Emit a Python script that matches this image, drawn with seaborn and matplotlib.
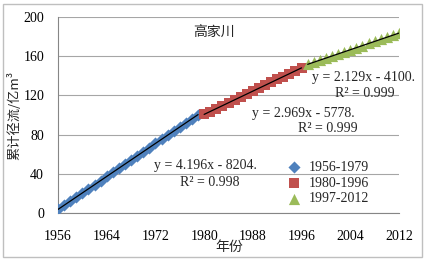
import matplotlib
matplotlib.use("Agg")
import matplotlib.pyplot as plt
import seaborn as sns
import numpy as np
import pandas as pd
from matplotlib.patches import Rectangle

years1 = list(range(1956, 1980))
vals1 = [3.6, 7.9, 12.0, 16.3, 20.4, 24.8, 28.9, 33.0, 37.3, 41.5, 45.8, 50.0,
         54.1, 58.4, 62.6, 66.8, 71.0, 75.1, 79.4, 83.6, 87.8, 91.9, 96.2, 100.3]
years2 = list(range(1980, 1997))
vals2 = [100.8, 103.5, 106.6, 109.5, 112.5, 115.4, 118.4, 121.4, 124.3, 127.3,
         130.3, 133.2, 136.3, 139.1, 142.2, 145.1, 148.2]
years3 = list(range(1997, 2013))
vals3 = [151.8, 153.8, 155.9, 158.1, 160.2, 162.3, 164.5, 166.5, 168.7, 170.8,
         173.0, 175.1, 177.2, 179.3, 181.5, 183.6]
labels = ["1956-1979", "1980-1996", "1997-2012"]
eqs = ["y = 4.196x - 8204.", "y = 2.969x - 5778.", "y = 2.129x - 4100."]
r2s = ["R² = 0.998", "R² = 0.999", "R² = 0.999"]
title = "高家川"
xticks = [1956, 1964, 1972, 1980, 1988, 1996, 2004, 2012]
yticks = [0, 40, 80, 120, 160, 200]

sns.set_theme(style="white")
plt.rcParams['font.family'] = ['Liberation Serif', 'Noto Sans CJK SC']

df = pd.concat([
    pd.DataFrame({"year": years1, "value": vals1, "period": labels[0]}),
    pd.DataFrame({"year": years2, "value": vals2, "period": labels[1]}),
    pd.DataFrame({"year": years3, "value": vals3, "period": labels[2]}),
])

fig = plt.figure(figsize=(4.25, 2.61), dpi=100)
ax = fig.add_axes([58/425, 1-213/261, (399-58)/425, (213-17)/261])

colors = ["#4F81BD", "#C0504D", "#9BBB59"]
markers = ["D", "s", "^"]
sizes = [38, 55, 65]
for i, lab in enumerate(labels):
    sub = df[df.period == lab]
    sns.scatterplot(data=sub, x="year", y="value", ax=ax, color=colors[i],
                    marker=markers[i], s=sizes[i], linewidth=0, label=lab, zorder=3)
    sns.regplot(data=sub, x="year", y="value", ax=ax, scatter=False, ci=None,
                line_kws=dict(color="black", lw=0.9, zorder=4), truncate=True)

ax.set_xlim(1956, 2012)
ax.set_ylim(0, 200)
ax.set_xticks(xticks)
ax.set_yticks(yticks)
ax.grid(axis="y", color="#A6A6A6", lw=0.8)
ax.set_axisbelow(True)
for s in ["top", "right"]:
    ax.spines[s].set_visible(False)
for s in ["left", "bottom"]:
    ax.spines[s].set_color("#868686")
    ax.spines[s].set_linewidth(0.8)
ax.tick_params(axis="x", direction="in", length=3, color="#868686", width=0.8,
               labelsize=10, pad=12)
ax.tick_params(axis="y", length=0, labelsize=10, pad=10)
for t in ax.get_xticklabels() + ax.get_yticklabels():
    t.set_color("black")

ax.set_xlabel("年份", fontsize=10, family=["Noto Sans CJK SC"])
ax.xaxis.set_label_coords((229-58)/341, -0.14)
ax.set_ylabel("累计径流/亿m³", fontsize=9.5, family=["Noto Sans CJK SC", "DejaVu Sans"])
ax.yaxis.set_label_coords(-0.106, 0.5)

fig.text(214/425, 1-33/261, title, fontsize=10, family=["Noto Sans CJK SC"],
         ha="center", va="center")

eq_pos = [(205, 166, 183, 239), (303, 113, 129, 358), (363, 77, 94, 395)]
for (cx, ey, ry, rx), e, r in zip(eq_pos, eqs, r2s):
    fig.text(cx/425, 1-ey/261, e, fontsize=10, ha="center", va="center")
    fig.text(rx/425, 1-ry/261, r, fontsize=10, ha="right", va="center")

leg = ax.legend(loc="upper left", bbox_to_anchor=((277-58)/341, (213-154)/196),
                frameon=False, fontsize=10, handletextpad=0.3, labelspacing=0.2,
                borderpad=0, handlelength=1.5)

fig.add_artist(Rectangle((3/425, 4/261), 419/425, 253/261, transform=fig.transFigure,
                         fill=False, edgecolor="#BFBFBF", lw=1.0))

fig.savefig("out.png", dpi=100)
